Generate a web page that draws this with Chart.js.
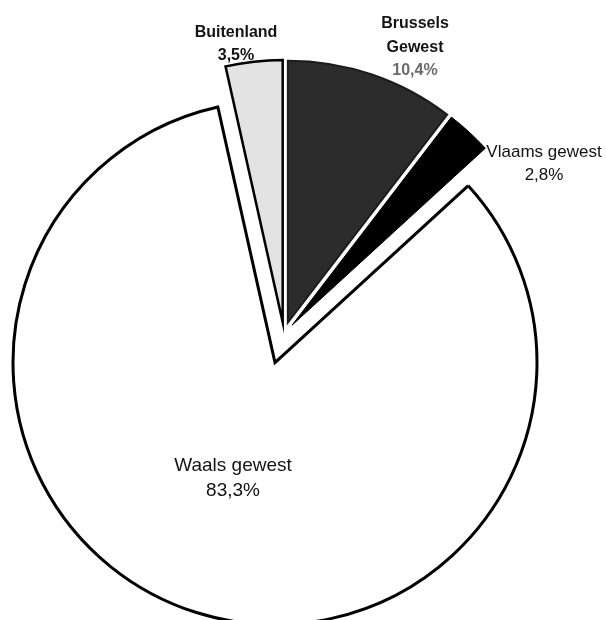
<!DOCTYPE html>
<html>
<head>
<meta charset="utf-8">
<script src="https://cdn.jsdelivr.net/npm/chart.js@4/dist/chart.umd.min.js"></script>
<style>
  body { margin: 0; background: #fff; }
  #wrap { width: 606px; height: 620px; position: relative; }
</style>
</head>
<body>
<div id="wrap"><canvas id="pie-chart"></canvas></div>
<script>
// data
var categories = ['Brussels Gewest', 'Vlaams gewest', 'Waals gewest', 'Buitenland'];
var shares = [10.4, 2.8, 83.3, 3.5];

// look of each slice (same order as categories)
var sliceFill = ['#2c2c2c', '#000000', '#ffffff', '#e3e3e3'];
var sliceBorder = ['#1c1c1c', '#000000', '#000000', '#000000'];
var explode = [12, 12, 30, 12];

// where the labels go, and how
var labelStyle = [
    { x: 415, y: 28, gap: 23.5, font: 'bold 16px "Liberation Sans", Arial, sans-serif', split: true, pctColor: '#6a6a6a' },
    { x: 544, y: 157, gap: 23, font: '17px "Liberation Sans", Arial, sans-serif', split: false, pctColor: '#111' },
    { x: 233, y: 471, gap: 25, font: '19px "Liberation Sans", Arial, sans-serif', split: false, pctColor: '#111' },
    { x: 236, y: 37, gap: 23, font: 'bold 16px "Liberation Sans", Arial, sans-serif', split: false, pctColor: '#111' }
];

function pct(v) {
    return v.toFixed(1).replace('.', ',') + '%';
}

// pull slices away from the centre along their middle angle
var explodePlugin = {
    id: 'explode',
    afterDatasetsUpdate: function (chart) {
        chart.getDatasetMeta(0).data.forEach(function (arc, i) {
            var mid = (arc.startAngle + arc.endAngle) / 2;
            arc.x += Math.cos(mid) * explode[i];
            arc.y += Math.sin(mid) * explode[i];
        });
    }
};

// slice labels
var labelPlugin = {
    id: 'sliceLabels',
    afterDraw: function (chart) {
        var ctx = chart.ctx;
        ctx.save();
        ctx.textAlign = 'center';
        ctx.textBaseline = 'alphabetic';
        categories.forEach(function (name, i) {
            var st = labelStyle[i];
            var lines = st.split ? name.split(' ') : [name];
            ctx.font = st.font;
            ctx.fillStyle = '#141414';
            lines.forEach(function (line, k) {
                ctx.fillText(line, st.x, st.y + k * st.gap);
            });
            ctx.fillStyle = st.pctColor;
            ctx.fillText(pct(shares[i]), st.x, st.y + lines.length * st.gap);
        });
        ctx.restore();
    }
};

var canvas = document.getElementById('pie-chart');
var chart = new Chart(canvas.getContext('2d'), {
    type: 'pie',
    data: {
        labels: categories,
        datasets: [{
            data: shares,
            backgroundColor: sliceFill,
            borderColor: sliceBorder,
            borderWidth: [2, 1, 3, 2.5],
            borderJoinStyle: 'miter'
        }]
    },
    options: {
        responsive: true,
        maintainAspectRatio: false,
        animation: false,
        events: [],
        radius: 262,
        layout: { padding: { left: 0, right: 38, top: 48, bottom: 0 } },
        plugins: {
            legend: { display: false },
            tooltip: { enabled: false }
        }
    },
    plugins: [explodePlugin, labelPlugin]
});
</script>
</body>
</html>
